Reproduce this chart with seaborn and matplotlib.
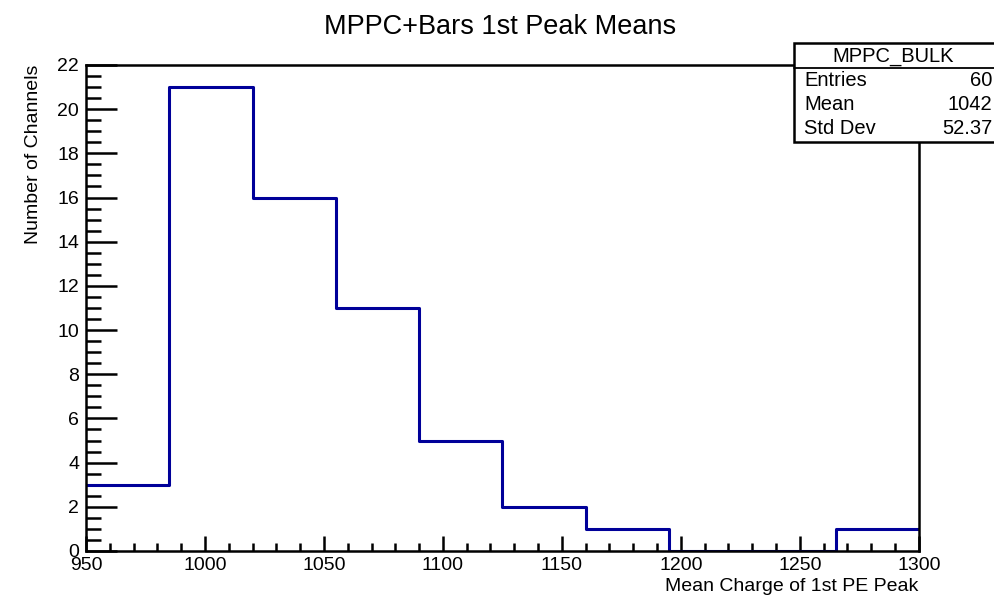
import matplotlib
matplotlib.use("Agg")
import matplotlib.pyplot as plt
import seaborn as sns
import numpy as np
import pandas as pd
from matplotlib.patches import Rectangle
from matplotlib.ticker import MultipleLocator

# histogram contents
bin_edges = [950, 985, 1020, 1055, 1090, 1125, 1160, 1195, 1230, 1265, 1300]
counts = [3, 21, 16, 11, 5, 2, 1, 0, 0, 1]
stats_names = ["Entries", "Mean", "Std Dev"]
stats_values = ["60", "1042", "52.37"]

centers = [(a + b) / 2 for a, b in zip(bin_edges[:-1], bin_edges[1:])]
df = pd.DataFrame({"charge": centers, "n": counts})

sns.set_style("white")
plt.rcParams["font.family"] = ["Liberation Sans", "DejaVu Sans"]
plt.rcParams["text.color"] = "black"
plt.rcParams["axes.labelcolor"] = "black"
plt.rcParams["xtick.color"] = "black"
plt.rcParams["ytick.color"] = "black"

fig = plt.figure(figsize=(9.95, 5.95), dpi=100)
ax = fig.add_axes([0.0864, 0.074, 0.837, 0.8168])

sns.histplot(data=df, x="charge", weights="n", bins=bin_edges,
             element="step", fill=False, color="#000099", linewidth=2.2, ax=ax)

ax.set_xlim(950, 1300)
ax.set_ylim(0, 22)
ax.xaxis.set_major_locator(MultipleLocator(50))
ax.xaxis.set_minor_locator(MultipleLocator(10))
ax.yaxis.set_major_locator(MultipleLocator(2))
ax.yaxis.set_minor_locator(MultipleLocator(0.5))
ax.tick_params(which="both", direction="in", bottom=True, left=True, top=False, right=False,
               width=1.8, color="black", labelsize=14, labelcolor="black")
ax.tick_params(axis="x", which="major", length=11, pad=4)
ax.tick_params(axis="x", which="minor", length=6)
ax.tick_params(axis="y", which="major", length=22, pad=5)
ax.tick_params(axis="y", which="minor", length=11)
for s in ax.spines.values():
    s.set_color("black")
    s.set_linewidth(1.8)

ax.set_xlabel("Mean Charge of 1st PE Peak", fontsize=14, loc="right", labelpad=3)
ax.set_ylabel("Number of Channels", fontsize=14, loc="top", labelpad=11)
fig.text(0.503, 0.955, "MPPC+Bars 1st Peak Means", fontsize=19.5, ha="center", va="center")

# stats box, clipped by the right edge like the original
x0, x1 = 0.798, 1.02
y_top, y_bot = 1 - 43 / 595, 1 - 142 / 595
y_sep = 1 - 68 / 595
fig.patches.append(Rectangle((x0, y_bot), x1 - x0, y_top - y_bot, transform=fig.transFigure,
                             fill=True, facecolor="white", edgecolor="black",
                             linewidth=1.8, clip_on=False, zorder=5))
fig.lines.append(plt.Line2D([x0, x1], [y_sep, y_sep], transform=fig.transFigure,
                            color="black", linewidth=1.3, zorder=6))
fig.text(0.898, 1 - 56 / 595, "MPPC_BULK", fontsize=14.5, ha="center", va="center", zorder=7)
for i, (nm, val) in enumerate(zip(stats_names, stats_values)):
    yy = 1 - (80 + 24 * i) / 595
    fig.text(0.808, yy, nm, fontsize=14.5, ha="left", va="center", zorder=7)
    fig.text(0.997, yy, val, fontsize=14.5, ha="right", va="center", zorder=7)

fig.savefig("out.png", dpi=100)
